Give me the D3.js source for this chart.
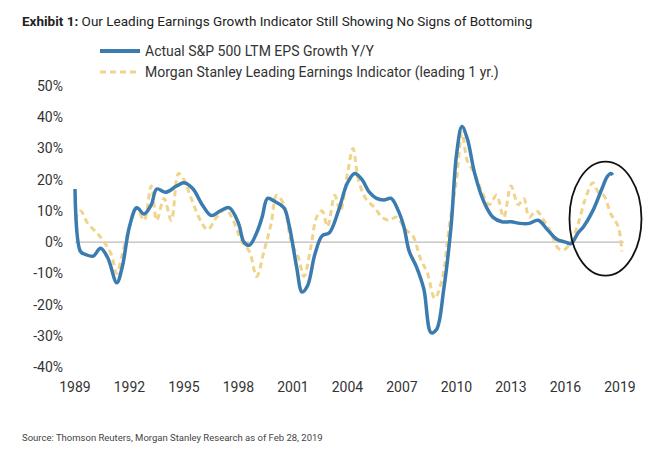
<!DOCTYPE html>
<html><head><meta charset="utf-8">
<script src="https://cdn.jsdelivr.net/npm/d3@7"></script>
<style>body{margin:0;background:#fff;font-family:Roboto,"Liberation Sans",sans-serif;}</style>
</head><body><div id="chart"></div>
<script>
var blueYears = [1989.0,1989.3,1989.6,1990.0,1990.4,1990.8,1991.3,1991.6,1992.0,1992.4,1992.8,1993.2,1993.5,1994.0,1994.6,1995.0,1995.5,1996.0,1996.5,1997.0,1997.5,1998.0,1998.3,1998.6,1999.0,1999.3,1999.6,2000.0,2000.5,2000.8,2001.2,2001.5,2001.8,2002.2,2002.6,2003.0,2003.5,2004.0,2004.4,2004.8,2005.2,2005.6,2006.0,2006.4,2006.8,2007.1,2007.4,2007.8,2008.2,2008.6,2008.9,2009.3,2009.7,2010.0,2010.3,2010.6,2011.0,2011.5,2012.0,2012.5,2013.0,2013.5,2014.0,2014.5,2015.0,2015.5,2016.0,2016.3,2016.7,2017.0,2017.5,2018.0,2018.3,2018.5,2018.6];
var blueValues = [17,-3,-4,-4.5,-2,-5,-13,-8,5,11,9,12,17,16,18,19,17,12,8.5,10,11,6,0,-1,3,8,14,13,11,5,-8,-16,-14,-4,2,3,10,19,22,20,16,14,13.5,14,10,5,-3,-8,-15,-29,-28,-15,5,28,37,33,22,13,8,6.5,6.5,6,6,7,4,1,0,-0.5,3,5,10,17,21,22,21.5];
var leadYears = [1989.0,1989.3,1989.7,1990.2,1990.6,1991.0,1991.3,1991.6,1992.0,1992.4,1992.8,1993.2,1993.5,1993.9,1994.3,1994.7,1995.0,1995.4,1995.9,1996.3,1996.8,1997.3,1997.7,1998.2,1998.6,1999.0,1999.4,1999.8,2000.1,2000.5,2000.9,2001.3,2001.6,2002.0,2002.3,2002.6,2002.9,2003.3,2003.6,2004.0,2004.3,2004.6,2005.0,2005.5,2005.9,2006.3,2006.7,2007.2,2007.6,2008.0,2008.4,2008.8,2009.2,2009.6,2010.0,2010.3,2010.6,2011.0,2011.4,2011.8,2012.2,2012.6,2013.0,2013.4,2013.7,2014.0,2014.4,2014.8,2015.2,2015.6,2015.9,2016.3,2016.7,2017.1,2017.5,2017.8,2018.1,2018.5,2018.9,2019.1];
var leadValues = [7,10,6,3,0,-4,-10,-4,5,11,7,18,7,14,7,22,20,14,7,4,8,10.5,7,0,-3,-11,-3,6,15,12,0,-5,-11,-1,8,10,5,15,10,22,30,20,14,11,8,7,8,4,2,-5,-10,-18,-12,5,20,35,26,22,16,12,15,8,18,12,14,8,10,7,3,-2,-2.5,0,6,14,19,16,15,9,5,-3];
var xTicks = [1989,1992,1995,1998,2001,2004,2007,2010,2013,2016,2019];
var yTicks = [50,40,30,20,10,0,-10,-20,-30,-40];

var svg = d3.select("#chart").append("svg").attr("width",672).attr("height",455);
var x = d3.scaleLinear().domain([1989,2019]).range([75,620]);
var y = d3.scaleLinear().domain([-40,50]).range([367,86]);

// title
var t = svg.append("text").attr("x",22).attr("y",26).attr("font-size",13.5).attr("fill","#222");
t.append("tspan").attr("font-weight","bold").text("Exhibit 1:");
t.append("tspan").text("  Our Leading Earnings Growth Indicator Still Showing No Signs of Bottoming");

// legend
svg.append("line").attr("x1",100).attr("x2",140).attr("y1",51).attr("y2",51).attr("stroke","#3a7bb0").attr("stroke-width",4);
svg.append("text").attr("x",145).attr("y",56).attr("font-size",14).attr("fill","#333").text("Actual S&P 500 LTM EPS Growth Y/Y");
svg.append("line").attr("x1",100).attr("x2",140).attr("y1",72).attr("y2",72).attr("stroke","#f0d48c").attr("stroke-width",3).attr("stroke-dasharray","6,4");
svg.append("text").attr("x",145).attr("y",77).attr("font-size",14).attr("fill","#333").text("Morgan Stanley Leading Earnings Indicator (leading 1 yr.)");

// axes labels
svg.selectAll(".yt").data(yTicks).enter().append("text")
  .attr("x",63).attr("y",d=>y(d)+5).attr("text-anchor","end").attr("font-size",14).attr("fill","#333")
  .text(d=>d+"%");
svg.selectAll(".xt").data(xTicks).enter().append("text")
  .attr("x",d=>x(d)).attr("y",392).attr("text-anchor","middle").attr("font-size",14).attr("fill","#333")
  .text(d=>d);

// zero line
svg.append("line").attr("x1",x(1989)).attr("x2",x(2019.2)).attr("y1",y(0)).attr("y2",y(0)).attr("stroke","#aaa").attr("stroke-width",1);

var line = d3.line().x(d=>x(d[0])).y(d=>y(d[1])).curve(d3.curveCatmullRom);
svg.append("path").datum(leadYears.map((d,i)=>[d,leadValues[i]]))
  .attr("d",line).attr("fill","none").attr("stroke","#f0d48c").attr("stroke-width",3).attr("stroke-dasharray","6,4");
svg.append("path").datum(blueYears.map((d,i)=>[d,blueValues[i]]))
  .attr("d",line).attr("fill","none").attr("stroke","#3a7bb0").attr("stroke-width",3.5);

// circle highlight
svg.append("ellipse").attr("cx",x(2018.2)).attr("cy",y(7.5)).attr("rx",36).attr("ry",57)
  .attr("fill","none").attr("stroke","#111").attr("stroke-width",1.8);

svg.append("text").attr("x",22).attr("y",441).attr("font-size",9.5).attr("fill","#444")
  .text("Source: Thomson Reuters, Morgan Stanley Research as of Feb 28, 2019");
</script></body></html>
